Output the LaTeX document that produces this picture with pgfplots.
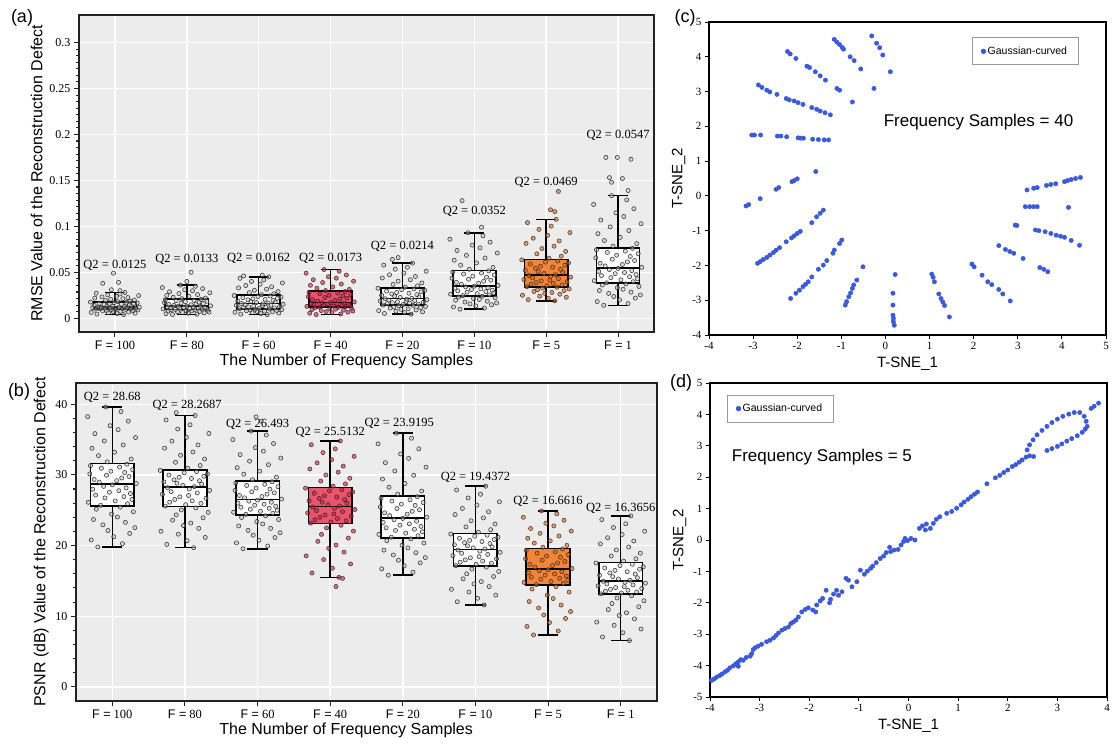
\documentclass[border=0pt]{standalone}
\usepackage{pgfplots}
\pgfplotsset{compat=1.18}
\usepackage{pgfplotstable}
\usepgfplotslibrary{statistics}
\usepackage{fontspec}
\setmainfont{Liberation Serif}
\setsansfont{Liberation Sans}
\newcommand\fs[1]{\fontsize{#1}{#1}\selectfont}
\definecolor{panelbg}{RGB}{236,236,236}
\definecolor{redbox}{RGB}{232,84,108}
\definecolor{orangebox}{RGB}{241,133,58}
\definecolor{tsneblue}{RGB}{60,90,215}
\definecolor{frame}{RGB}{35,35,35}

\pgfplotstableread{
dxa dxb
0.12 -0.20
-0.25 0.14
0.03 -0.29
0.28 0.02
-0.09 0.24
-0.33 -0.06
0.19 0.31
-0.02 -0.13
0.08 0.18
-0.17 -0.26
0.25 0.07
-0.12 -0.01
0.32 0.29
-0.05 -0.22
0.15 0.11
-0.27 -0.16
0.01 0.21
0.22 -0.33
-0.21 0.04
0.10 0.27
-0.14 -0.10
0.29 0.16
-0.07 -0.23
0.05 0.25
-0.31 -0.04
0.17 0.09
-0.19 -0.27
0.34 0.19
0.06 -0.12
-0.24 0.00
0.13 0.33
-0.03 -0.18
0.23 0.06
-0.11 -0.25
-0.29 0.13
0.20 0.23
-0.15 -0.08
0.09 -0.31
-0.08 0.17
0.26 -0.02
-0.22 0.28
0.31 -0.15
-0.01 0.10
0.16 -0.30
-0.34 0.20
0.04 -0.07
0.21 0.26
-0.13 -0.19
0.27 0.03
-0.06 -0.28
0.11 0.15
-0.28 -0.11
0.18 0.32
-0.18 -0.24
0.02 0.08
0.33 -0.03
-0.10 0.22
0.07 -0.34
-0.26 0.12
0.14 -0.09
}\dxtab

% ---- panel (a): RMSE values, one table per group ----
\pgfplotstableread[row sep=\\]{y\\0.0040\\0.0045\\0.0050\\0.0055\\0.0059\\0.0063\\0.0067\\0.0071\\0.0075\\0.0079\\0.0082\\0.0086\\0.0090\\0.0093\\0.0096\\0.0099\\0.0101\\0.0103\\0.0104\\0.0106\\0.0108\\0.0110\\0.0112\\0.0113\\0.0115\\0.0117\\0.0119\\0.0120\\0.0122\\0.0124\\0.0127\\0.0130\\0.0134\\0.0137\\0.0141\\0.0145\\0.0148\\0.0152\\0.0155\\0.0158\\0.0162\\0.0166\\0.0169\\0.0173\\0.0176\\0.0181\\0.0186\\0.0192\\0.0198\\0.0206\\0.0212\\0.0219\\0.0225\\0.0232\\0.0239\\0.0246\\0.0254\\0.0263\\0.0272\\0.0280\\}\tAa
\pgfplotstableread[row sep=\\]{y\\0.0040\\0.0044\\0.0049\\0.0054\\0.0058\\0.0062\\0.0066\\0.0070\\0.0073\\0.0077\\0.0080\\0.0084\\0.0087\\0.0091\\0.0093\\0.0096\\0.0099\\0.0101\\0.0104\\0.0106\\0.0109\\0.0111\\0.0114\\0.0117\\0.0119\\0.0122\\0.0124\\0.0127\\0.0129\\0.0132\\0.0135\\0.0140\\0.0146\\0.0150\\0.0155\\0.0160\\0.0165\\0.0170\\0.0175\\0.0180\\0.0185\\0.0190\\0.0194\\0.0200\\0.0205\\0.0212\\0.0219\\0.0228\\0.0238\\0.0248\\0.0257\\0.0268\\0.0277\\0.0288\\0.0299\\0.0310\\0.0322\\0.0334\\0.0348\\0.0360\\}\tAb
\pgfplotstableread[row sep=\\]{y\\0.0040\\0.0045\\0.0051\\0.0056\\0.0060\\0.0065\\0.0069\\0.0073\\0.0077\\0.0082\\0.0085\\0.0090\\0.0093\\0.0097\\0.0100\\0.0104\\0.0108\\0.0112\\0.0116\\0.0120\\0.0124\\0.0128\\0.0132\\0.0136\\0.0140\\0.0144\\0.0148\\0.0152\\0.0156\\0.0160\\0.0165\\0.0171\\0.0177\\0.0182\\0.0188\\0.0195\\0.0200\\0.0206\\0.0212\\0.0217\\0.0224\\0.0230\\0.0235\\0.0241\\0.0247\\0.0256\\0.0266\\0.0278\\0.0290\\0.0304\\0.0316\\0.0330\\0.0342\\0.0356\\0.0370\\0.0384\\0.0400\\0.0416\\0.0434\\0.0450\\}\tAc
\pgfplotstableread[row sep=\\]{y\\0.0040\\0.0046\\0.0054\\0.0060\\0.0066\\0.0072\\0.0078\\0.0083\\0.0088\\0.0094\\0.0098\\0.0104\\0.0109\\0.0114\\0.0118\\0.0122\\0.0125\\0.0129\\0.0132\\0.0136\\0.0140\\0.0143\\0.0147\\0.0150\\0.0153\\0.0157\\0.0161\\0.0164\\0.0168\\0.0171\\0.0177\\0.0185\\0.0194\\0.0201\\0.0209\\0.0218\\0.0225\\0.0234\\0.0242\\0.0249\\0.0258\\0.0266\\0.0273\\0.0282\\0.0290\\0.0301\\0.0313\\0.0327\\0.0341\\0.0358\\0.0372\\0.0388\\0.0403\\0.0419\\0.0436\\0.0452\\0.0471\\0.0490\\0.0511\\0.0530\\}\tAd
\pgfplotstableread[row sep=\\]{y\\0.0044\\0.0052\\0.0061\\0.0069\\0.0076\\0.0083\\0.0090\\0.0097\\0.0103\\0.0110\\0.0116\\0.0122\\0.0128\\0.0134\\0.0139\\0.0144\\0.0149\\0.0154\\0.0159\\0.0164\\0.0169\\0.0173\\0.0178\\0.0183\\0.0187\\0.0192\\0.0197\\0.0202\\0.0207\\0.0212\\0.0217\\0.0226\\0.0234\\0.0241\\0.0249\\0.0257\\0.0264\\0.0272\\0.0280\\0.0287\\0.0295\\0.0303\\0.0310\\0.0318\\0.0326\\0.0338\\0.0352\\0.0368\\0.0384\\0.0403\\0.0419\\0.0438\\0.0454\\0.0473\\0.0492\\0.0511\\0.0533\\0.0554\\0.0578\\0.0600\\}\tAe
\pgfplotstableread[row sep=\\]{y\\0.0098\\0.0110\\0.0123\\0.0134\\0.0146\\0.0156\\0.0166\\0.0176\\0.0185\\0.0195\\0.0204\\0.0214\\0.0223\\0.0231\\0.0239\\0.0246\\0.0254\\0.0262\\0.0268\\0.0276\\0.0283\\0.0290\\0.0298\\0.0305\\0.0312\\0.0319\\0.0327\\0.0333\\0.0341\\0.0349\\0.0357\\0.0369\\0.0381\\0.0391\\0.0402\\0.0414\\0.0424\\0.0436\\0.0448\\0.0458\\0.0470\\0.0481\\0.0491\\0.0503\\0.0515\\0.0532\\0.0553\\0.0577\\0.0602\\0.0631\\0.0655\\0.0684\\0.0709\\0.0737\\0.0766\\0.0795\\0.0828\\0.0860\\0.0897\\0.0930\\}\tAf
\pgfplotstableread[row sep=\\]{y\\0.0190\\0.0202\\0.0216\\0.0228\\0.0240\\0.0250\\0.0261\\0.0271\\0.0280\\0.0291\\0.0300\\0.0310\\0.0319\\0.0328\\0.0336\\0.0344\\0.0353\\0.0362\\0.0370\\0.0379\\0.0388\\0.0395\\0.0405\\0.0414\\0.0421\\0.0430\\0.0439\\0.0447\\0.0456\\0.0465\\0.0474\\0.0486\\0.0498\\0.0508\\0.0520\\0.0532\\0.0543\\0.0555\\0.0566\\0.0577\\0.0589\\0.0601\\0.0611\\0.0623\\0.0635\\0.0653\\0.0675\\0.0701\\0.0727\\0.0758\\0.0784\\0.0814\\0.0841\\0.0871\\0.0902\\0.0932\\0.0967\\0.1002\\0.1041\\0.1076\\}\tAg
\pgfplotstableread[row sep=\\]{y\\0.0140\\0.0159\\0.0181\\0.0200\\0.0219\\0.0236\\0.0253\\0.0270\\0.0284\\0.0301\\0.0315\\0.0332\\0.0346\\0.0361\\0.0373\\0.0385\\0.0397\\0.0408\\0.0418\\0.0430\\0.0442\\0.0452\\0.0464\\0.0475\\0.0485\\0.0497\\0.0509\\0.0519\\0.0530\\0.0542\\0.0554\\0.0569\\0.0584\\0.0598\\0.0613\\0.0628\\0.0642\\0.0657\\0.0672\\0.0686\\0.0701\\0.0716\\0.0730\\0.0745\\0.0760\\0.0784\\0.0812\\0.0846\\0.0880\\0.0920\\0.0954\\0.0994\\0.1028\\0.1068\\0.1107\\0.1147\\0.1192\\0.1238\\0.1288\\0.1334\\}\tAh

% ---- panel (b): PSNR values ----
\pgfplotstableread[row sep=\\]{y\\19.80\\20.26\\20.79\\21.25\\21.71\\22.12\\22.53\\22.93\\23.28\\23.69\\24.03\\24.44\\24.79\\25.14\\25.43\\25.69\\25.91\\26.12\\26.31\\26.52\\26.74\\26.92\\27.14\\27.36\\27.54\\27.76\\27.97\\28.16\\28.37\\28.59\\28.77\\28.97\\29.18\\29.35\\29.56\\29.76\\29.94\\30.14\\30.34\\30.52\\30.72\\30.93\\31.10\\31.31\\31.51\\31.84\\32.24\\32.72\\33.20\\33.76\\34.24\\34.80\\35.28\\35.84\\36.40\\36.96\\37.60\\38.24\\38.96\\39.60\\}\tBa
\pgfplotstableread[row sep=\\]{y\\19.70\\20.16\\20.69\\21.15\\21.61\\22.02\\22.43\\22.83\\23.18\\23.59\\23.93\\24.34\\24.69\\25.04\\25.33\\25.58\\25.78\\25.97\\26.14\\26.33\\26.52\\26.69\\26.89\\27.08\\27.25\\27.44\\27.63\\27.80\\27.99\\28.19\\28.34\\28.51\\28.68\\28.83\\29.00\\29.17\\29.31\\29.49\\29.66\\29.80\\29.97\\30.14\\30.29\\30.46\\30.63\\30.93\\31.32\\31.78\\32.24\\32.78\\33.24\\33.78\\34.24\\34.78\\35.32\\35.86\\36.48\\37.09\\37.78\\38.40\\}\tBb
\pgfplotstableread[row sep=\\]{y\\19.55\\19.93\\20.37\\20.75\\21.13\\21.47\\21.81\\22.14\\22.43\\22.77\\23.05\\23.39\\23.68\\23.97\\24.21\\24.41\\24.56\\24.71\\24.84\\24.99\\25.14\\25.27\\25.42\\25.57\\25.70\\25.85\\26.00\\26.13\\26.28\\26.43\\26.57\\26.75\\26.93\\27.09\\27.27\\27.46\\27.61\\27.80\\27.98\\28.13\\28.32\\28.50\\28.66\\28.84\\29.02\\29.31\\29.67\\30.09\\30.52\\31.02\\31.44\\31.94\\32.37\\32.86\\33.36\\33.86\\34.43\\34.99\\35.63\\36.20\\}\tBc
\pgfplotstableread[row sep=\\]{y\\15.50\\16.11\\16.79\\17.40\\18.01\\18.54\\19.07\\19.60\\20.06\\20.59\\21.05\\21.58\\22.04\\22.49\\22.87\\23.17\\23.34\\23.51\\23.65\\23.82\\23.99\\24.14\\24.31\\24.47\\24.62\\24.79\\24.96\\25.10\\25.27\\25.44\\25.59\\25.78\\25.97\\26.13\\26.32\\26.51\\26.67\\26.86\\27.04\\27.20\\27.39\\27.58\\27.74\\27.93\\28.12\\28.40\\28.73\\29.12\\29.52\\29.98\\30.38\\30.84\\31.24\\31.70\\32.16\\32.62\\33.15\\33.68\\34.27\\34.80\\}\tBd
\pgfplotstableread[row sep=\\]{y\\15.80\\16.22\\16.70\\17.13\\17.55\\17.92\\18.29\\18.66\\18.98\\19.35\\19.67\\20.04\\20.36\\20.68\\20.94\\21.18\\21.38\\21.58\\21.75\\21.95\\22.14\\22.31\\22.51\\22.71\\22.88\\23.07\\23.27\\23.44\\23.64\\23.84\\24.01\\24.23\\24.44\\24.63\\24.84\\25.06\\25.24\\25.46\\25.68\\25.86\\26.08\\26.29\\26.48\\26.69\\26.91\\27.27\\27.71\\28.25\\28.78\\29.40\\29.94\\30.56\\31.09\\31.72\\32.34\\32.96\\33.68\\34.39\\35.19\\35.90\\}\tBe
\pgfplotstableread[row sep=\\]{y\\11.60\\12.04\\12.54\\12.98\\13.42\\13.80\\14.19\\14.57\\14.90\\15.29\\15.62\\16.00\\16.33\\16.66\\16.94\\17.17\\17.33\\17.50\\17.64\\17.80\\17.97\\18.11\\18.27\\18.43\\18.57\\18.74\\18.90\\19.04\\19.21\\19.37\\19.51\\19.67\\19.82\\19.96\\20.12\\20.28\\20.41\\20.57\\20.73\\20.86\\21.02\\21.18\\21.32\\21.47\\21.63\\21.90\\22.24\\22.64\\23.04\\23.51\\23.91\\24.38\\24.78\\25.25\\25.72\\26.19\\26.73\\27.26\\27.86\\28.40\\}\tBf
\pgfplotstableread[row sep=\\]{y\\7.35\\7.91\\8.55\\9.11\\9.68\\10.17\\10.66\\11.16\\11.58\\12.07\\12.50\\12.99\\13.41\\13.84\\14.19\\14.47\\14.63\\14.78\\14.92\\15.08\\15.24\\15.37\\15.53\\15.69\\15.82\\15.98\\16.14\\16.28\\16.43\\16.59\\16.75\\16.95\\17.16\\17.34\\17.54\\17.75\\17.92\\18.13\\18.34\\18.51\\18.72\\18.92\\19.10\\19.31\\19.51\\19.76\\20.02\\20.34\\20.66\\21.03\\21.35\\21.72\\22.04\\22.41\\22.78\\23.15\\23.58\\24.00\\24.48\\24.90\\}\tBg
\pgfplotstableread[row sep=\\]{y\\6.55\\7.07\\7.66\\8.19\\8.71\\9.17\\9.63\\10.09\\10.48\\10.94\\11.33\\11.79\\12.18\\12.58\\12.90\\13.16\\13.29\\13.42\\13.54\\13.67\\13.80\\13.92\\14.05\\14.18\\14.30\\14.43\\14.56\\14.68\\14.81\\14.94\\15.08\\15.26\\15.44\\15.60\\15.78\\15.96\\16.12\\16.30\\16.48\\16.64\\16.82\\17.00\\17.16\\17.34\\17.52\\17.80\\18.13\\18.52\\18.92\\19.38\\19.78\\20.24\\20.64\\21.10\\21.56\\22.02\\22.55\\23.08\\23.67\\24.20\\}\tBh

\pgfplotstablecreatecol[copy column from table={\dxtab}{dxa}]{dx}{\tAa}
\pgfplotstablecreatecol[copy column from table={\dxtab}{dxb}]{dx}{\tAb}
\pgfplotstablecreatecol[copy column from table={\dxtab}{dxa}]{dx}{\tAc}
\pgfplotstablecreatecol[copy column from table={\dxtab}{dxb}]{dx}{\tAd}
\pgfplotstablecreatecol[copy column from table={\dxtab}{dxa}]{dx}{\tAe}
\pgfplotstablecreatecol[copy column from table={\dxtab}{dxb}]{dx}{\tAf}
\pgfplotstablecreatecol[copy column from table={\dxtab}{dxa}]{dx}{\tAg}
\pgfplotstablecreatecol[copy column from table={\dxtab}{dxb}]{dx}{\tAh}
\pgfplotstablecreatecol[copy column from table={\dxtab}{dxb}]{dx}{\tBa}
\pgfplotstablecreatecol[copy column from table={\dxtab}{dxa}]{dx}{\tBb}
\pgfplotstablecreatecol[copy column from table={\dxtab}{dxb}]{dx}{\tBc}
\pgfplotstablecreatecol[copy column from table={\dxtab}{dxa}]{dx}{\tBd}
\pgfplotstablecreatecol[copy column from table={\dxtab}{dxb}]{dx}{\tBe}
\pgfplotstablecreatecol[copy column from table={\dxtab}{dxa}]{dx}{\tBf}
\pgfplotstablecreatecol[copy column from table={\dxtab}{dxb}]{dx}{\tBg}
\pgfplotstablecreatecol[copy column from table={\dxtab}{dxa}]{dx}{\tBh}

\tikzset{q2/.style={font=\fs{12.5}}}
\pgfplotsset{
  boxplot/draw direction=y,
  boxax/.style={
    scale only axis, anchor=south west,
    axis background/.style={fill=panelbg},
    grid=major, major grid style={white, line width=1.4pt},
    axis line style={draw=frame, line width=1.6pt},
    tick align=outside, tick pos=left,
    major tick length=5pt, minor tick length=3pt,
    tick style={draw=frame, line width=1.1pt},
    xmin=-0.5, xmax=7.5,
    xtick={0,...,7},
    xticklabels={\textsf{F =} 100,\textsf{F =} 80,\textsf{F =} 60,\textsf{F =} 40,\textsf{F =} 20,\textsf{F =} 10,\textsf{F =} 5,\textsf{F =} 1},
    x tick label style={font=\fs{12.5}},
    y tick label style={font=\fs{12}},
    xlabel={The Number of Frequency Samples},
    xlabel style={font=\sffamily\fs{16}, at={(ticklabel cs:0.465)}, inner sep=1pt},
    ylabel style={font=\sffamily\fs{16}},
  },
  bx/.style={draw=black, line width=1.6pt, fill=white, boxplot/draw direction=y},
  pt/.style={only marks, mark=*, mark size=2.1pt,
    mark options={draw=black!90, fill=black!25, line width=0.55pt, draw opacity=0.85, fill opacity=0.5}},
  ptred/.style={only marks, mark=*, mark size=2.1pt,
    mark options={draw={rgb,255:red,80;green,15;blue,35}, fill={rgb,255:red,170;green,50;blue,75}, line width=0.55pt, draw opacity=0.85, fill opacity=0.6}},
  ptorg/.style={only marks, mark=*, mark size=2.1pt,
    mark options={draw={rgb,255:red,70;green,35;blue,10}, fill={rgb,255:red,190;green,110;blue,55}, line width=0.55pt, draw opacity=0.85, fill opacity=0.6}},
  tsne/.style={
    scale only axis, anchor=south west,
    axis line style={draw=black, line width=1.6pt},
    tick align=outside, tick pos=left,
    major tick length=4pt,
    tick style={draw=black, line width=0.8pt},
    tick label style={font=\fs{11}},
    xlabel={T-SNE\_1}, ylabel={T-SNE\_2},
    label style={font=\sffamily\fs{15}},
    legend style={draw=gray!80, line width=0.9pt, fill=white, font=\sffamily\fs{10.5},
      inner xsep=9pt, inner ysep=7pt, anchor=north west, legend cell align=left},
  },
  tpt/.style={only marks, mark=*, mark size=2.2pt, mark options={draw=tsneblue, fill=tsneblue}},
}

\begin{document}
\begin{tikzpicture}
\path[use as bounding box] (0pt,0pt) rectangle (1113pt,745pt);

% ================= (a) =================
\begin{axis}[boxax, at={(79pt,413pt)}, width=575pt, height=317pt,
  ymin=-0.015, ymax=0.33,
  ytick={0,0.05,0.1,0.15,0.2,0.25,0.3},
  yticklabels={0,0.05,0.1,0.15,0.2,0.25,0.3},
  minor y tick num=6,
  ylabel={RMSE Value of the Reconstruction Defect}]
\addplot[bx, boxplot prepared={lower whisker=0.004, lower quartile=0.0098, median=0.0125, upper quartile=0.0178, upper whisker=0.028, draw position=0, box extend=0.6, whisker extend=0.28}] coordinates {};
\addplot[pt] table[x expr=\thisrow{dx}+0, y=y]{\tAa};
\addplot[pt] coordinates {(-0.02,0.049) (-0.17,0.038) (0.05,0.039) (-0.05,0.031) (0.07,0.030)};
\addplot[bx, boxplot prepared={lower whisker=0.004, lower quartile=0.0095, median=0.0133, upper quartile=0.0207, upper whisker=0.036, draw position=1, box extend=0.6, whisker extend=0.28}] coordinates {};
\addplot[pt] table[x expr=\thisrow{dx}+1, y=y]{\tAb};
\addplot[pt] coordinates {(1.06,0.050) (1.00,0.040)};
\addplot[bx, boxplot prepared={lower whisker=0.004, lower quartile=0.0102, median=0.0162, upper quartile=0.025, upper whisker=0.045, draw position=2, box extend=0.6, whisker extend=0.28}] coordinates {};
\addplot[pt] table[x expr=\thisrow{dx}+2, y=y]{\tAc};
\addplot[pt] coordinates {(1.79,0.046) (2.05,0.047)};
\addplot[bx, fill=redbox, boxplot prepared={lower whisker=0.004, lower quartile=0.012, median=0.0173, upper quartile=0.0294, upper whisker=0.053, draw position=3, box extend=0.6, whisker extend=0.28}] coordinates {};
\addplot[ptred] table[x expr=\thisrow{dx}+3, y=y]{\tAd};
\addplot[bx, boxplot prepared={lower whisker=0.0044, lower quartile=0.0142, median=0.0214, upper quartile=0.033, upper whisker=0.060, draw position=4, box extend=0.6, whisker extend=0.28}] coordinates {};
\addplot[pt] table[x expr=\thisrow{dx}+4, y=y]{\tAe};
\addplot[pt] coordinates {(3.94,0.066) (3.86,0.064)};
\addplot[bx, boxplot prepared={lower whisker=0.0098, lower quartile=0.0243, median=0.0352, upper quartile=0.052, upper whisker=0.093, draw position=5, box extend=0.6, whisker extend=0.28}] coordinates {};
\addplot[pt] table[x expr=\thisrow{dx}+5, y=y]{\tAf};
\addplot[pt] coordinates {(4.83,0.128) (5.10,0.099)};
\addplot[bx, fill=orangebox, boxplot prepared={lower whisker=0.019, lower quartile=0.034, median=0.0469, upper quartile=0.064, upper whisker=0.1076, draw position=6, box extend=0.6, whisker extend=0.28}] coordinates {};
\addplot[ptorg] table[x expr=\thisrow{dx}+6, y=y]{\tAg};
\addplot[ptorg] coordinates {(6.17,0.138) (6.06,0.118) (6.12,0.116)};
\addplot[bx, boxplot prepared={lower whisker=0.014, lower quartile=0.038, median=0.0547, upper quartile=0.0767, upper whisker=0.1334, draw position=7, box extend=0.6, whisker extend=0.28}] coordinates {};
\addplot[pt] table[x expr=\thisrow{dx}+7, y=y]{\tAh};
\addplot[pt] coordinates {(6.83,0.175) (6.99,0.175) (7.18,0.173) (6.88,0.153) (7.06,0.152) (6.91,0.148) (7.14,0.139)};
\node[q2] at (axis cs:0,0.058) {Q2 = 0.0125};
\node[q2] at (axis cs:1,0.064) {Q2 = 0.0133};
\node[q2] at (axis cs:2,0.065) {Q2 = 0.0162};
\node[q2] at (axis cs:3,0.065) {Q2 = 0.0173};
\node[q2] at (axis cs:4,0.0785) {Q2 = 0.0214};
\node[q2] at (axis cs:5,0.116) {Q2 = 0.0352};
\node[q2] at (axis cs:6,0.1476) {Q2 = 0.0469};
\node[q2] at (axis cs:7,0.1985) {Q2 = 0.0547};
\end{axis}

% ================= (b) =================
\begin{axis}[boxax, at={(76pt,44pt)}, width=581pt, height=318pt,
  ymin=-2, ymax=43,
  ytick={0,10,20,30,40}, yticklabels={0,10,20,30,40},
  minor y tick num=4,
  ylabel={PSNR (dB) Value of the Reconstruction Defect}]
\addplot[bx, boxplot prepared={lower whisker=19.8, lower quartile=25.6, median=28.68, upper quartile=31.6, upper whisker=39.6, draw position=0, box extend=0.6, whisker extend=0.28}] coordinates {};
\addplot[pt] table[x expr=\thisrow{dx}+0, y=y]{\tBa};
\addplot[bx, boxplot prepared={lower whisker=19.7, lower quartile=25.5, median=28.27, upper quartile=30.7, upper whisker=38.4, draw position=1, box extend=0.6, whisker extend=0.28}] coordinates {};
\addplot[pt] table[x expr=\thisrow{dx}+1, y=y]{\tBb};
\addplot[pt] coordinates {(0.88,38.8)};
\addplot[bx, boxplot prepared={lower whisker=19.55, lower quartile=24.35, median=26.49, upper quartile=29.1, upper whisker=36.2, draw position=2, box extend=0.6, whisker extend=0.28}] coordinates {};
\addplot[pt] table[x expr=\thisrow{dx}+2, y=y]{\tBc};
\addplot[pt] coordinates {(1.98,38.2) (2.05,37.6)};
\addplot[bx, fill=redbox, boxplot prepared={lower whisker=15.5, lower quartile=23.1, median=25.51, upper quartile=28.2, upper whisker=34.8, draw position=3, box extend=0.6, whisker extend=0.28}] coordinates {};
\addplot[ptred] table[x expr=\thisrow{dx}+3, y=y]{\tBd};
\addplot[ptred] coordinates {(3.17,15.35) (3.08,14.2)};
\addplot[bx, boxplot prepared={lower whisker=15.8, lower quartile=21.1, median=23.92, upper quartile=27.0, upper whisker=35.9, draw position=4, box extend=0.6, whisker extend=0.28}] coordinates {};
\addplot[pt] table[x expr=\thisrow{dx}+4, y=y]{\tBe};
\addplot[bx, boxplot prepared={lower whisker=11.6, lower quartile=17.1, median=19.44, upper quartile=21.7, upper whisker=28.4, draw position=5, box extend=0.6, whisker extend=0.28}] coordinates {};
\addplot[pt] table[x expr=\thisrow{dx}+5, y=y]{\tBf};
\addplot[bx, fill=orangebox, boxplot prepared={lower whisker=7.35, lower quartile=14.4, median=16.66, upper quartile=19.6, upper whisker=24.9, draw position=6, box extend=0.6, whisker extend=0.28}] coordinates {};
\addplot[ptorg] table[x expr=\thisrow{dx}+6, y=y]{\tBg};
\addplot[bx, boxplot prepared={lower whisker=6.55, lower quartile=13.1, median=15.0, upper quartile=17.6, upper whisker=24.2, draw position=7, box extend=0.6, whisker extend=0.28}] coordinates {};
\addplot[pt] table[x expr=\thisrow{dx}+7, y=y]{\tBh};
\node[q2] at (axis cs:0,40.9) {Q2 = 28.68};
\node[q2] at (axis cs:1.03,39.9) {Q2 = 28.2687};
\node[q2] at (axis cs:2,37.1) {Q2 = 26.493};
\node[q2] at (axis cs:3,36.0) {Q2 = 25.5132};
\node[q2] at (axis cs:3.95,37.3) {Q2 = 23.9195};
\node[q2] at (axis cs:5,29.6) {Q2 = 19.4372};
\node[q2] at (axis cs:6,26.2) {Q2 = 16.6616};
\node[q2] at (axis cs:7,25.3) {Q2 = 16.3656};
\end{axis}

% ================= (c) =================
\begin{axis}[tsne, at={(709pt,410pt)}, width=397pt, height=313pt,
  xmin=-4, xmax=5, ymin=-4, ymax=5,
  xtick={-4,...,5}, xticklabels={-4,-3,-2,-1,0,1,2,3,4,5},
  ytick={-4,...,5}, yticklabels={-4,-3,-2,-1,0,1,2,3,4,5},
  legend style={at={(0.662,0.951)}}]
\addplot[tpt] coordinates {
(-1.16,4.50)(-1.10,4.42)(-1.04,4.35)(-0.98,4.27)(-0.95,4.22)(-0.80,4.00)(-0.71,3.89)(-0.56,3.65)
(-2.22,4.15)(-2.16,4.08)(-2.03,3.95)(-1.78,3.73)(-1.72,3.69)(-1.59,3.57)(-1.48,3.45)(-1.36,3.33)(-1.10,3.09)(-1.04,3.04)(-0.75,2.70)
(-0.31,4.60)(-0.20,4.39)(-0.13,4.26)(-0.06,4.05)(0.11,3.57)(-0.26,3.09)
(-2.88,3.19)(-2.80,3.12)(-2.69,3.04)(-2.62,2.99)(-2.46,2.92)(-2.25,2.80)(-2.18,2.76)(-2.07,2.73)(-1.98,2.68)(-1.87,2.63)(-1.67,2.54)(-1.56,2.49)(-1.48,2.44)(-1.37,2.39)(-1.25,2.33)
(-3.03,1.75)(-2.97,1.75)(-2.83,1.75)(-2.45,1.72)(-2.37,1.72)(-2.24,1.70)(-1.98,1.67)(-1.92,1.66)(-1.86,1.66)(-1.65,1.63)(-1.52,1.62)(-1.39,1.61)(-1.29,1.61)
(-3.16,-0.29)(-3.10,-0.25)(-2.84,-0.08)(-2.48,0.19)(-2.42,0.24)(-2.12,0.41)(-2.07,0.44)(-2.00,0.49)(-1.58,0.70)
(-2.90,-1.94)(-2.84,-1.89)(-2.77,-1.83)(-2.69,-1.77)(-2.62,-1.70)(-2.54,-1.63)(-2.48,-1.56)(-2.40,-1.49)(-2.25,-1.32)(-2.13,-1.21)(-2.07,-1.15)(-2.00,-1.08)(-1.93,-1.02)(-1.67,-0.77)(-1.56,-0.60)(-1.48,-0.50)(-1.41,-0.41)
(-2.15,-2.95)(-2.03,-2.80)(-1.95,-2.71)(-1.87,-2.61)(-1.81,-2.54)(-1.75,-2.47)(-1.67,-2.33)(-1.52,-2.11)(-1.41,-1.99)(-1.33,-1.86)(-1.19,-1.65)(-1.16,-1.56)(-1.04,-1.37)(-0.99,-1.27)
(-0.91,-3.14)(-0.88,-3.04)(-0.83,-2.90)(-0.79,-2.79)(-0.75,-2.66)(-0.72,-2.56)(-0.65,-2.42)(-0.51,-2.04)
(0.22,-2.26)(0.17,-2.80)(0.17,-3.14)(0.17,-3.43)(0.18,-3.52)(0.18,-3.62)(0.20,-3.72)
(1.05,-2.25)(1.08,-2.34)(1.11,-2.47)(1.21,-2.82)(1.26,-2.95)(1.30,-3.05)(1.34,-3.15)(1.45,-3.48)
(1.96,-1.96)(2.01,-2.04)(2.19,-2.28)(2.32,-2.47)(2.41,-2.55)(2.57,-2.69)(2.66,-2.82)(2.83,-3.02)
(2.57,-1.43)(2.72,-1.54)(2.82,-1.60)(2.91,-1.65)(3.12,-1.80)(3.50,-2.06)(3.59,-2.11)(3.68,-2.18)
(3.40,-0.98)(3.48,-1.00)(3.62,-1.03)(3.75,-1.08)(3.87,-1.13)(3.97,-1.16)(4.06,-1.19)(4.21,-1.28)(4.40,-1.42)
(3.17,-0.31)(3.27,-0.31)(3.36,-0.31)(3.44,-0.31)(4.15,-0.33)(2.94,-0.84)(2.98,-0.85)
(3.21,0.17)(3.36,0.22)(3.44,0.24)(3.65,0.30)(3.75,0.33)(3.86,0.35)(4.06,0.41)(4.13,0.44)(4.21,0.47)(4.31,0.50)(4.42,0.53)
};
\addlegendentry{Gaussian-curved}
\node[font=\sffamily\fs{17}] at (axis cs:2.11,2.13) {Frequency Samples = 40};
\end{axis}

% ================= (d) =================
\begin{axis}[tsne, at={(710pt,48pt)}, width=397pt, height=314pt,
  xmin=-4, xmax=4, ymin=-5, ymax=5,
  xtick={-4,...,4}, xticklabels={-4,-3,-2,-1,0,1,2,3,4},
  ytick={-5,...,5}, yticklabels={-5,-4,-3,-2,-1,0,1,2,3,4,5},
  legend style={at={(0.0425,0.963)}}]
\addplot[tpt] coordinates {
(-3.97,-4.47)(-3.92,-4.43)(-3.87,-4.37)(-3.81,-4.32)(-3.76,-4.27)(-3.70,-4.20)(-3.65,-4.15)(-3.60,-4.07)(-3.53,-4.01)(-3.48,-3.94)
(-3.43,-3.88)(-3.38,-3.81)(-3.43,-4.02)(-3.33,-3.83)(-3.27,-3.74)(-3.19,-3.70)(-3.16,-3.62)(-3.13,-3.49)(-3.09,-3.43)(-3.03,-3.38)
(-2.96,-3.32)(-2.86,-3.24)(-2.79,-3.19)(-2.72,-3.12)(-2.67,-3.04)(-2.62,-2.96)(-2.55,-2.87)(-2.49,-2.82)(-2.42,-2.77)(-2.37,-2.66)
(-2.32,-2.61)(-2.27,-2.55)(-2.22,-2.45)(-2.15,-2.29)(-2.08,-2.21)(-2.02,-2.16)(-1.93,-2.23)(-1.87,-2.29)(-1.85,-2.07)(-1.78,-1.94)
(-1.73,-1.86)(-1.66,-1.60)(-1.59,-2.00)(-1.57,-1.89)(-1.51,-1.72)(-1.45,-1.60)(-1.41,-1.76)(-1.34,-1.65)(-1.26,-1.22)(-1.21,-1.28)
(-1.14,-1.49)(-1.04,-1.33)(-0.97,-0.96)(-0.89,-1.09)(-0.83,-0.99)(-0.76,-0.90)(-0.72,-0.83)(-0.65,-0.72)(-0.57,-0.59)(-0.50,-0.51)
(-0.45,-0.40)(-0.38,-0.23)(-0.36,-0.37)(-0.29,-0.32)(-0.21,-0.30)(-0.15,-0.16)(-0.10,-0.05)(-0.07,0.05)(-0.02,-0.02)(0.05,0.05)
(0.13,0.00)(0.22,0.37)(0.28,0.45)(0.34,0.32)(0.36,0.51)(0.44,0.37)(0.50,0.53)(0.56,0.66)(0.63,0.74)(0.77,0.85)
(0.87,0.91)(0.97,1.01)(1.06,1.12)(1.12,1.21)(1.20,1.30)(1.26,1.38)(1.33,1.46)(1.39,1.53)(1.58,1.79)(1.75,1.98)
(1.84,2.06)(1.92,2.15)(2.00,2.23)(2.09,2.34)(2.16,2.40)(2.23,2.48)(2.29,2.55)(2.37,2.64)(2.44,2.68)(2.52,2.66)
(2.39,2.87)(2.44,3.03)(2.51,3.19)(2.59,3.35)(2.69,3.49)(2.79,3.62)(2.89,3.74)(3.00,3.85)(3.11,3.94)(3.23,4.01)
(3.34,4.06)(3.45,4.06)(3.54,3.94)(3.58,3.78)(3.60,3.62)
(2.79,2.85)(2.89,2.91)(3.00,2.98)(3.09,3.06)(3.19,3.15)(3.29,3.23)(3.40,3.32)(3.50,3.43)(3.56,3.53)
(3.68,4.19)(3.74,4.26)(3.83,4.36)
};
\addlegendentry{Gaussian-curved}
\node[font=\sffamily\fs{17}, anchor=west] at (axis cs:-3.63,2.64) {Frequency Samples = 5};
\end{axis}

% panel labels
\node[font=\sffamily\fs{18}] at (22pt,727pt) {(a)};
\node[font=\sffamily\fs{18}] at (19pt,353pt) {(b)};
\node[font=\sffamily\fs{18}] at (685pt,727pt) {(c)};
\node[font=\sffamily\fs{18}] at (681pt,362pt) {(d)};
\end{tikzpicture}
\end{document}
